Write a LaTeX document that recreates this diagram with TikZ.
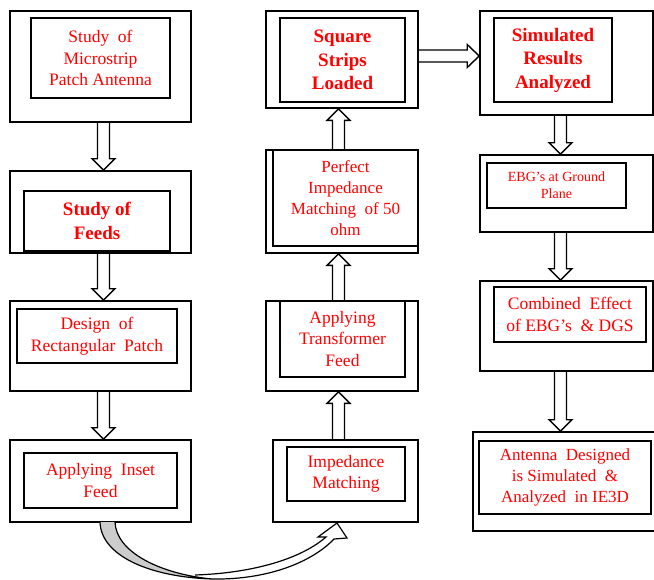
\documentclass[tikz,border=0pt]{standalone}
\usepackage{fontspec}
\setmainfont{Liberation Serif}
\usetikzlibrary{calc}
\definecolor{txtred}{RGB}{255,0,0}
\newcommand{\varrowblk}[2]{%
  \draw[blockarrow] let \p1=(#1), \p2=(#2), \n1={sign(\y2-\y1)} in
    (\x1-6pt,\y1) -- (\x1-6pt,\y2-\n1*11.5pt) -- (\x1-11.5pt,\y2-\n1*11.5pt)
    -- (\x1,\y2) -- (\x1+11.5pt,\y2-\n1*11.5pt) -- (\x1+6pt,\y2-\n1*11.5pt) -- (\x1+6pt,\y1);}
\begin{document}
\begin{tikzpicture}[x=1pt,y=-1pt,
  box/.style 2 args={draw, line width=1.6pt, minimum width=#1, minimum height=#2,
    inner sep=0pt, align=center, text=txtred},
  reg/.style={font=\fontsize{17.5}{21.5}\selectfont},
  bld/.style={font=\fontsize{19}{23.5}\selectfont\bfseries},
  sml/.style={font=\fontsize{14}{17}\selectfont},
  blockarrow/.style={draw, line width=1.4pt, line join=miter}]
\useasboundingbox (0,0) rectangle (654,579);
% column 1
\node[box={181}{111}] (o1) at (100.5,66.5) {};
\node[box={139}{80},reg] (i1) at (100.5,58) {Study~ of\\Microstrip\\Patch Antenna};
\node[box={181}{82}] (o2) at (100.5,212) {};
\node[box={146}{60},bld] (i2) at (97,221) {Study of\\Feeds};
\node[box={181}{90}] (o3) at (100.5,346) {};
\node[box={160}{54},reg] (i3) at (97,336) {Design~ of\\Rectangular~ Patch};
\node[box={181}{82}] (o4) at (100.5,481) {};
\node[box={153}{55},reg] (i4) at (100.5,480.5) {Applying~ Inset\\Feed};
% column 2
\node[box={152}{97}] (o5) at (342,59.5) {};
\node[box={125}{84},bld] (i5) at (342.5,60) {Square\\Strips\\Loaded};
\node[box={152}{103}] (o6) at (342,201.5) {};
\node[box={145}{96},reg,font=\fontsize{17}{21}\selectfont] (i6) at (345.5,198) {Perfect\\Impedance\\Matching~ of 50\\ohm};
\node[box={152}{90}] (o7) at (342,346) {};
\node[box={125}{76},reg] (i7) at (342.5,339) {Applying\\Transformer\\Feed};
\node[box={145}{82}] (o8) at (345.5,481) {};
\node[box={118}{54},reg] (i8) at (346,474) {Impedance\\Matching};
% column 3
\node[box={173}{104}] (o9) at (566.5,63) {};
\node[box={118}{84},bld] (i9) at (553,60) {Simulated\\Results\\Analyzed};
\node[box={173}{77}] (o10) at (566.5,193.5) {};
\node[box={139}{45},sml] (i10) at (556.5,185.5) {EBG’s at Ground\\Plane};
\node[box={173}{90}] (o11) at (566.5,326) {};
\node[box={152}{55},reg] (i11) at (570,314.5) {Combined~ Effect\\of EBG’s~ \& DGS};
\node[box={185}{99}] (o12) at (565.5,481.5) {};
\node[box={172}{73},reg,font=\fontsize{17}{21}\selectfont] (i12) at (565,477.5) {Antenna~ Designed\\is Simulated~ \&\\Analyzed~ in IE3D};
% block arrows
\varrowblk{$(o1.south)+(3,0)$}{o2.north}
\varrowblk{$(o2.south)+(3,0)$}{o3.north}
\varrowblk{$(o3.south)+(3,0)$}{o4.north}
\varrowblk{$(o8.north)+(-7,0)$}{o7.south}
\varrowblk{$(o7.north)+(-3.5,0)$}{o6.south}
\varrowblk{$(o6.north)+(-3.5,0)$}{o5.south}
\varrowblk{$(o9.south)+(-6,0)$}{o10.north}
\varrowblk{$(o10.south)+(-6,0)$}{o11.north}
\varrowblk{$(o11.south)+(-6,0)$}{o12.north}
\draw[blockarrow] let \p1=($(o5.east)+(0,-3.5)$), \p2=(o9.west) in
  (\x1,\y1+6pt) -- (\x2-12pt,\y1+6pt) -- (\x2-12pt,\y1+11.5pt) -- (\x2,\y1)
  -- (\x2-12pt,\y1-11.5pt) -- (\x2-12pt,\y1-6pt) -- (\x1,\y1-6pt);
% curved arrow from o4 to o8
\filldraw[fill=gray!40, line width=1.2pt]
  (100,522) .. controls (101,556) and (150,577) .. (212,579)
  .. controls (160,574) and (116,552) .. (115,522);
\draw[line width=1.2pt, line join=miter]
  (212,579) .. controls (268,580) and (312,562) .. (334,539)
  -- (347,538) -- (337,523) -- (318,537) -- (326,537)
  .. controls (302,558) and (255,573) .. (195,575);
\end{tikzpicture}
\end{document}
